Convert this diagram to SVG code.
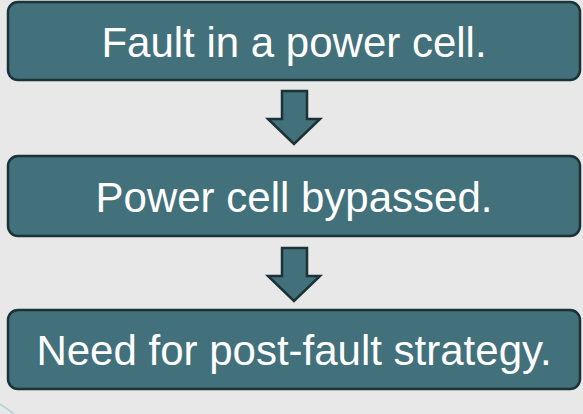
<svg xmlns="http://www.w3.org/2000/svg" width="583" height="414" viewBox="0 0 583 414">
<style>
.box{fill:#42717c;stroke:#1b3236;stroke-width:2.5}
.lbl{font-family:"Liberation Sans",Arial,sans-serif;font-size:42px;fill:#ffffff;text-anchor:middle}
.arr{fill:#42717c;stroke:#1b3236;stroke-width:2.5;stroke-linejoin:miter}
</style>
<rect x="0" y="0" width="583" height="414" fill="#e8e8e8"/>
<path d="M0,404 Q8,409 14,414" fill="none" stroke="#bcd6dc" stroke-width="2"/>
<g id="node1"><rect class="box" x="8" y="2" width="572" height="78" rx="10"/><text class="lbl" x="294" y="57">Fault in a power cell.</text></g>
<g id="node2"><rect class="box" x="8" y="156" width="572" height="80" rx="10"/><text class="lbl" x="294" y="212">Power cell bypassed.</text></g>
<g id="node3"><rect class="box" x="8" y="310" width="572" height="79" rx="10"/><text class="lbl" x="294" y="365">Need for post-fault strategy.</text></g>
<g id="connectors">
<path class="arr" d="M282,91 H307 V119 H320 L294,144 L268,119 H282 Z"/>
<path class="arr" d="M282,248 H307 V276 H320 L294,301 L268,276 H282 Z"/>
</g>
</svg>
